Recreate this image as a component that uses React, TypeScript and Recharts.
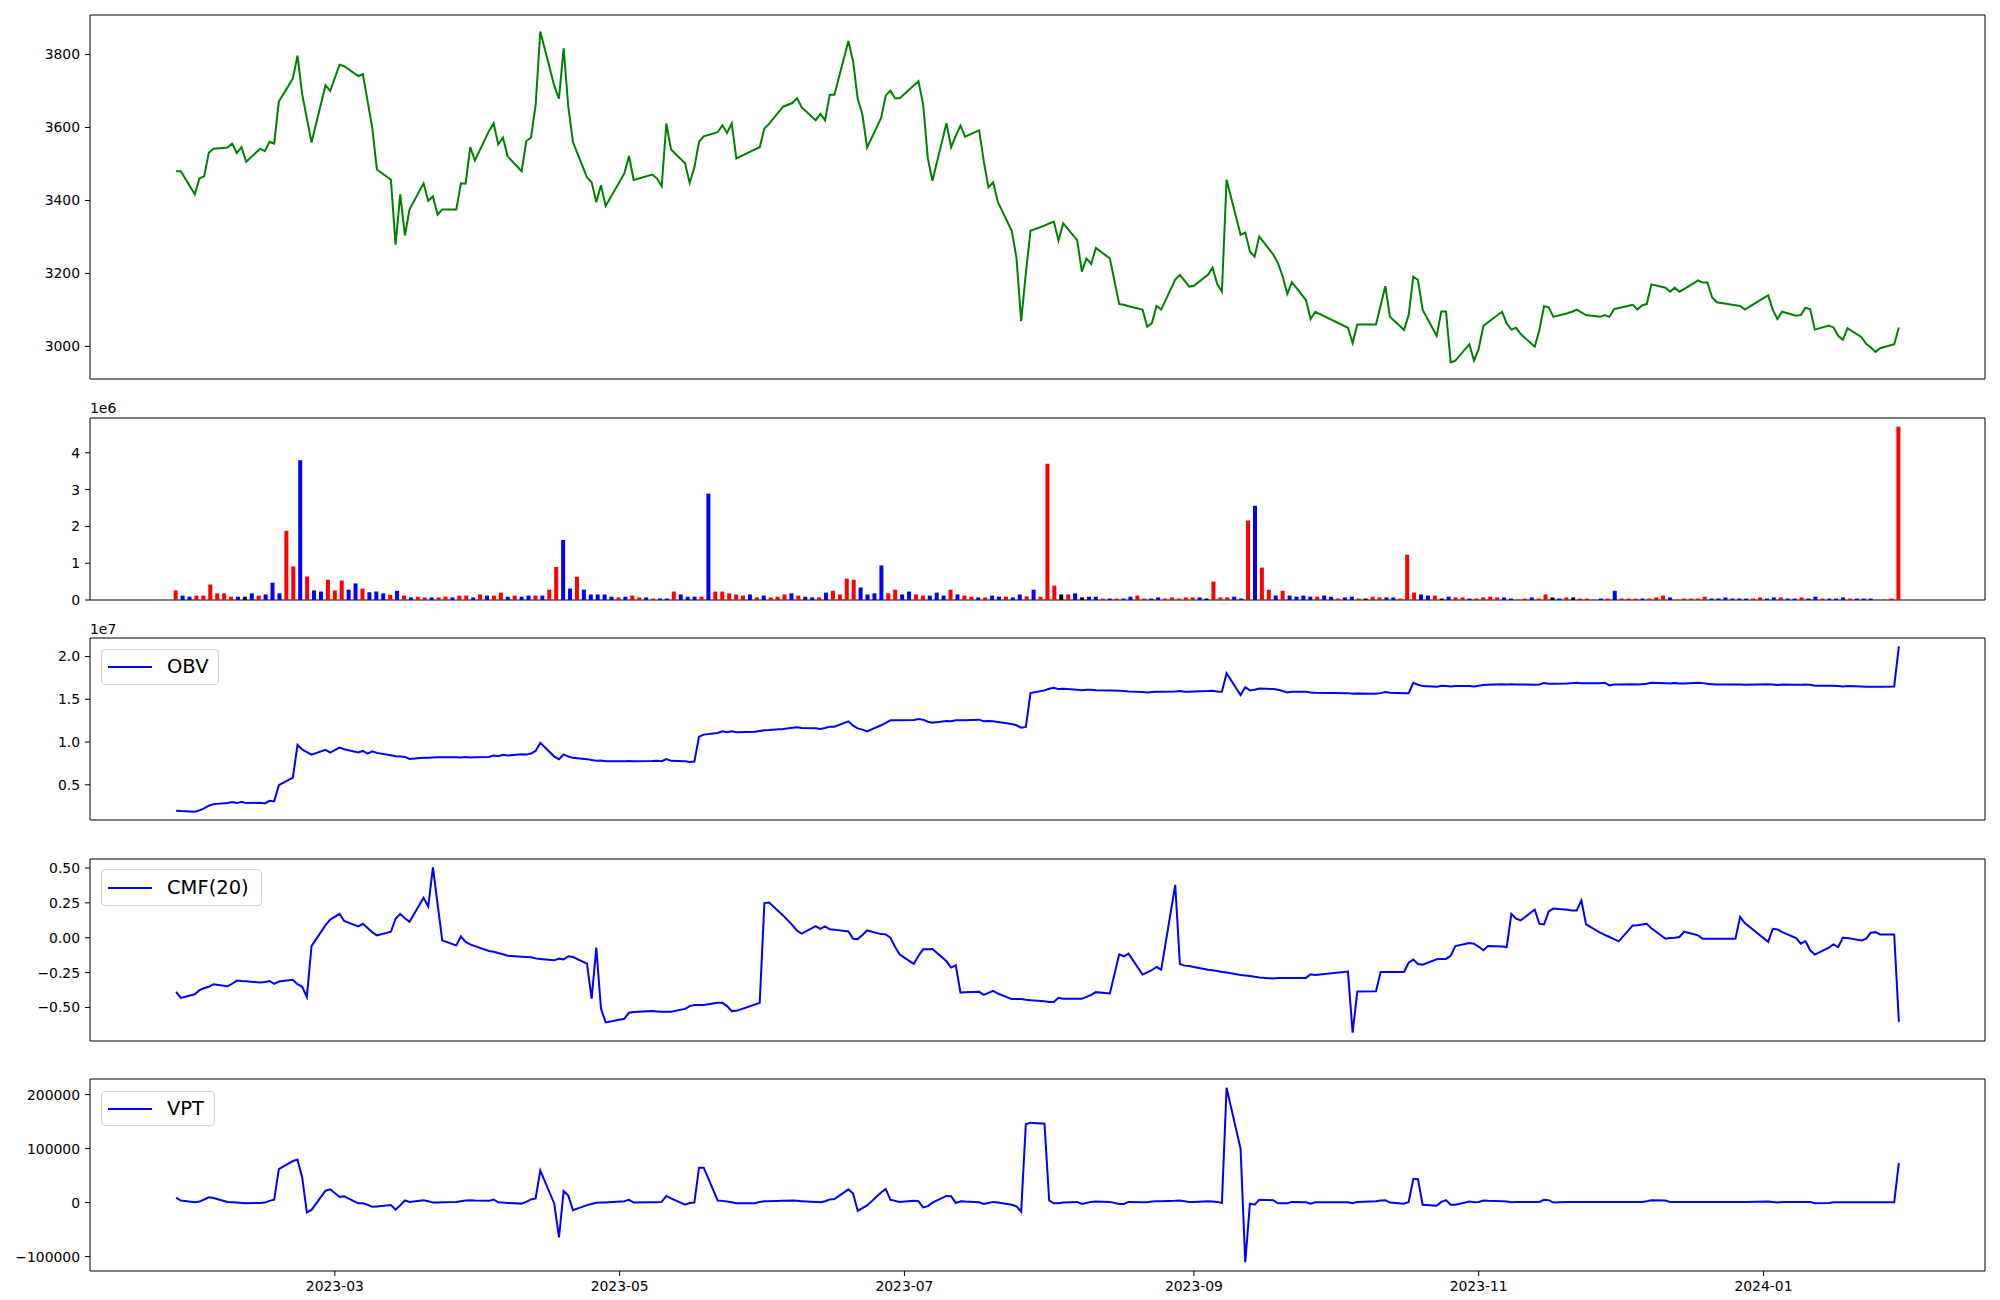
import React from 'react';
import { LineChart, Line, BarChart, Bar, Cell, XAxis, YAxis, ReferenceArea } from 'recharts';

const DAY = 86400000;
const START = Date.UTC(2023, 0, 26);
const END = Date.UTC(2024, 0, 30);

// market holidays falling on weekdays inside the range
const HOLIDAYS = [
  '2023-03-01', '2023-05-01', '2023-05-05', '2023-05-29', '2023-06-06', '2023-08-15',
  '2023-09-28', '2023-09-29', '2023-10-02', '2023-10-03', '2023-10-09', '2023-12-25',
  '2023-12-29', '2024-01-01',
];

const MONTH_LABELS = ['2023-03', '2023-05', '2023-07', '2023-09', '2023-11', '2024-01'];

// closing price, one value per trading day (rows = months)
const close = [
  3480, 3480, 3417, 3461,
  3466, 3531, 3542, 3545, 3556, 3530, 3546, 3506, 3542, 3535, 3561, 3556, 3671, 3734, 3797, 3691, 3625, 3559, 3716, 3700,
  3772, 3768, 3741, 3746, 3673, 3600, 3485, 3457, 3279, 3417, 3304, 3376, 3447, 3399, 3411, 3361, 3375, 3375, 3447, 3446, 3546, 3510,
  3590, 3611, 3554, 3572, 3521, 3480, 3563, 3572, 3661, 3863, 3714, 3679, 3817, 3657, 3560, 3463, 3450, 3395, 3442, 3385,
  3474, 3522, 3456, 3471, 3460, 3439, 3611, 3540, 3502, 3448, 3490, 3561, 3576, 3587, 3606, 3585, 3611, 3515, 3540, 3546,
  3597, 3610, 3657, 3667, 3680, 3655, 3620, 3637, 3620, 3690, 3690, 3837, 3781, 3678, 3635, 3545, 3626, 3688, 3701, 3680, 3680,
  3715, 3727, 3664, 3516, 3454, 3612, 3546, 3577, 3605, 3575, 3592, 3507, 3436, 3450, 3396, 3316, 3242, 3069, 3200, 3317, 3331,
  3337, 3342, 3290, 3337, 3291, 3205, 3241, 3226, 3270, 3241, 3116, 3114, 3110, 3101, 3054, 3064, 3111, 3101, 3183, 3196, 3180, 3164,
  3166, 3196, 3216, 3171, 3150, 3457, 3306, 3312, 3260, 3246, 3301, 3252, 3228, 3193, 3144, 3176, 3127, 3075, 3095,
  3051, 3009, 3060, 3060, 3112, 3165, 3081, 3045, 3086, 3191, 3182, 3100, 3029, 3096, 3096, 2956, 2961, 3006, 2961,
  2993, 3056, 3066, 3095, 3063, 3046, 3051, 3034, 2999, 3045, 3110, 3107, 3081, 3091, 3095, 3101, 3093, 3086, 3081, 3086, 3081, 3102,
  3105, 3114, 3101, 3113, 3116, 3170, 3161, 3150, 3161, 3150, 3157, 3181, 3175, 3175, 3134, 3121, 3113, 3111, 3101,
  3140, 3100, 3075, 3095, 3084, 3086, 3106, 3102, 3046, 3057, 3052, 3029, 3018, 3050, 3025, 3007, 2997, 2985, 2995, 3006, 3052,
];

// volume in millions (rows of ten bars)
const volume = [
  0.26, 0.12, 0.09, 0.12, 0.12, 0.42, 0.18, 0.18, 0.09, 0.09,
  0.09, 0.18, 0.12, 0.15, 0.47, 0.18, 1.88, 0.91, 3.80, 0.64,
  0.26, 0.23, 0.55, 0.26, 0.53, 0.28, 0.45, 0.31, 0.21, 0.23,
  0.18, 0.14, 0.25, 0.12, 0.07, 0.09, 0.07, 0.07, 0.07, 0.09,
  0.07, 0.12, 0.12, 0.07, 0.15, 0.12, 0.12, 0.20, 0.09, 0.12,
  0.09, 0.12, 0.12, 0.12, 0.28, 0.90, 1.63, 0.31, 0.63, 0.28,
  0.15, 0.15, 0.15, 0.09, 0.07, 0.09, 0.12, 0.07, 0.07, 0.04,
  0.04, 0.04, 0.23, 0.15, 0.09, 0.09, 0.09, 2.89, 0.23, 0.23,
  0.18, 0.15, 0.12, 0.15, 0.07, 0.12, 0.07, 0.09, 0.15, 0.18,
  0.12, 0.09, 0.07, 0.07, 0.20, 0.25, 0.15, 0.58, 0.55, 0.34,
  0.15, 0.18, 0.94, 0.18, 0.28, 0.15, 0.23, 0.15, 0.12, 0.12,
  0.20, 0.12, 0.28, 0.15, 0.12, 0.09, 0.07, 0.07, 0.12, 0.09,
  0.09, 0.07, 0.15, 0.10, 0.28, 0.09, 3.70, 0.39, 0.15, 0.15,
  0.18, 0.07, 0.09, 0.09, 0.04, 0.04, 0.04, 0.04, 0.09, 0.12,
  0.04, 0.04, 0.07, 0.04, 0.07, 0.04, 0.07, 0.07, 0.07, 0.04,
  0.50, 0.07, 0.07, 0.09, 0.04, 2.16, 2.56, 0.88, 0.28, 0.12,
  0.25, 0.12, 0.09, 0.12, 0.09, 0.09, 0.12, 0.09, 0.04, 0.07,
  0.09, 0.04, 0.04, 0.09, 0.07, 0.07, 0.07, 0.04, 1.23, 0.20,
  0.15, 0.12, 0.12, 0.04, 0.09, 0.07, 0.07, 0.04, 0.04, 0.07,
  0.09, 0.07, 0.07, 0.04, 0.01, 0.04, 0.07, 0.04, 0.15, 0.07,
  0.04, 0.07, 0.07, 0.04, 0.04, 0.01, 0.04, 0.04, 0.25, 0.04,
  0.04, 0.04, 0.04, 0.04, 0.07, 0.12, 0.07, 0.01, 0.04, 0.04,
  0.04, 0.09, 0.04, 0.04, 0.07, 0.04, 0.04, 0.04, 0.04, 0.07,
  0.04, 0.07, 0.07, 0.04, 0.04, 0.07, 0.04, 0.09, 0.04, 0.04,
  0.04, 0.07, 0.04, 0.04, 0.04, 0.04, 0.01, 0.01, 0.04, 4.71,
];

// bar colour class: 1 red, -1 blue, 0 black
const volumeTone = [
  1, -1, -1, 1, 1, 1, 1, 1, 1, -1,
  0, -1, 1, -1, -1, -1, 1, 1, -1, 1,
  -1, -1, 1, 1, 1, -1, -1, 1, -1, -1,
  -1, 1, -1, 1, -1, 1, 1, -1, 1, 1,
  -1, 1, 1, -1, 1, -1, 1, 1, -1, 1,
  -1, -1, 1, -1, 1, 1, -1, -1, 1, -1,
  -1, -1, -1, -1, 1, -1, 1, 1, -1, 1,
  -1, -1, 1, -1, -1, -1, 1, -1, 1, 1,
  1, 1, 1, -1, 1, -1, 1, 1, 1, -1,
  1, -1, -1, 1, -1, 1, 1, 1, 1, -1,
  -1, -1, -1, 1, 1, -1, -1, 1, 1, -1,
  -1, -1, 1, -1, 1, 1, -1, 1, -1, -1,
  1, -1, -1, 1, -1, 1, 1, 1, 0, 1,
  -1, 0, -1, -1, 1, -1, 1, -1, -1, 1,
  1, -1, -1, 1, 1, 1, 1, 1, -1, 0,
  1, 1, 1, -1, -1, 1, -1, 1, 1, -1,
  1, -1, -1, -1, -1, 1, -1, -1, 1, -1,
  -1, 1, 0, 1, 1, -1, -1, 1, 1, 1,
  -1, -1, 1, 0, -1, 1, 1, -1, 1, 1,
  1, 1, -1, -1, 1, 1, -1, 1, 1, 0,
  -1, 1, 0, 1, 1, 1, -1, 1, -1, 1,
  1, 1, -1, 1, 1, 1, -1, 1, 1, 1,
  1, 1, -1, -1, -1, -1, -1, -1, 1, 1,
  -1, -1, 1, -1, -1, 1, -1, -1, 1, -1,
  -1, -1, 1, -1, -1, -1, 1, 1, 1, 1,
];

// OBV in units of 1e7 (rows = months)
const obv = [
  0.197, 0.193, 0.185, 0.201,
  0.224, 0.255, 0.274, 0.286, 0.298, 0.286, 0.302, 0.286, 0.29, 0.282, 0.313, 0.306, 0.496, 0.585, 0.966, 0.912, 0.881, 0.853, 0.908, 0.877,
  0.935, 0.916, 0.877, 0.896, 0.865, 0.892, 0.873, 0.846, 0.834, 0.83, 0.826, 0.803, 0.815, 0.815, 0.818, 0.822, 0.822, 0.822, 0.818, 0.826, 0.818, 0.822,
  0.826, 0.842, 0.834, 0.85, 0.842, 0.857, 0.853, 0.865, 0.896, 0.99, 0.83, 0.80, 0.855, 0.83, 0.815, 0.80, 0.79, 0.78, 0.785, 0.775,
  0.776, 0.777, 0.776, 0.778, 0.78, 0.775, 0.80, 0.78, 0.774, 0.768, 0.771, 1.063, 1.087, 1.106, 1.125, 1.114, 1.125, 1.114, 1.12, 1.13,
  1.137, 1.14, 1.153, 1.168, 1.172, 1.164, 1.16, 1.153, 1.164, 1.18, 1.18, 1.242, 1.192, 1.16, 1.145, 1.125, 1.196, 1.223, 1.254, 1.254, 1.254,
  1.258, 1.27, 1.262, 1.238, 1.227, 1.246, 1.242, 1.254, 1.254, 1.254, 1.262, 1.242, 1.246, 1.242, 1.234, 1.211, 1.196, 1.168, 1.177, 1.572, 1.604,
  1.623, 1.635, 1.619, 1.623, 1.611, 1.607, 1.611, 1.611, 1.607, 1.604, 1.60, 1.596, 1.592, 1.584, 1.58, 1.584, 1.588, 1.588, 1.592, 1.596, 1.588, 1.588,
  1.592, 1.596, 1.60, 1.592, 1.588, 1.804, 1.549, 1.642, 1.604, 1.611, 1.627, 1.619, 1.611, 1.596, 1.58, 1.588, 1.588, 1.58, 1.576,
  1.572, 1.565, 1.569, 1.565, 1.572, 1.584, 1.576, 1.572, 1.572, 1.693, 1.67, 1.654, 1.646, 1.658, 1.654, 1.65, 1.654, 1.654, 1.65,
  1.658, 1.666, 1.67, 1.677, 1.674, 1.677, 1.674, 1.674, 1.67, 1.674, 1.689, 1.681, 1.681, 1.685, 1.689, 1.693, 1.689, 1.689, 1.689, 1.693, 1.662, 1.674,
  1.674, 1.677, 1.674, 1.677, 1.681, 1.693, 1.689, 1.685, 1.689, 1.685, 1.685, 1.693, 1.689, 1.681, 1.677, 1.674, 1.674, 1.674, 1.67,
  1.677, 1.674, 1.666, 1.674, 1.67, 1.67, 1.674, 1.67, 1.658, 1.658, 1.658, 1.654, 1.65, 1.654, 1.65, 1.646, 1.646, 1.646, 1.646, 1.65, 2.12,
];

// Chaikin money flow, 20 day
const cmf = [
  -0.388, -0.431, -0.405, -0.376,
  -0.362, -0.352, -0.333, -0.348, -0.33, -0.307, -0.31, -0.312, -0.321, -0.317, -0.31, -0.331, -0.314, -0.302, -0.333, -0.352, -0.424, -0.06, 0.09, 0.13,
  0.171, 0.12, 0.081, 0.10, 0.07, 0.04, 0.017, 0.043, 0.136, 0.171, 0.14, 0.114, 0.286, 0.224, 0.505, 0.243, -0.019, -0.055, 0.01, -0.03, -0.048, -0.06,
  -0.095, -0.10, -0.11, -0.119, -0.129, -0.136, -0.138, -0.14, -0.148, -0.152, -0.162, -0.15, -0.155, -0.133, -0.138, -0.186, -0.436, -0.071, -0.507, -0.607,
  -0.581, -0.538, -0.533, -0.526, -0.528, -0.53, -0.531, -0.531, -0.51, -0.49, -0.483, -0.483, -0.483, -0.467, -0.467, -0.49, -0.526, -0.524, -0.479, -0.467,
  0.248, 0.252, 0.16, 0.09, 0.05, 0.029, 0.083, 0.064, 0.081, 0.06, 0.058, 0.045, -0.007, -0.01, 0.02, 0.052, 0.026, 0.024, 0.0, -0.067, -0.121,
  -0.188, -0.13, -0.083, -0.082, -0.081, -0.169, -0.214, -0.198, -0.393, -0.39, -0.388, -0.41, -0.395, -0.381, -0.40, -0.44, -0.44, -0.44, -0.445, -0.448, -0.455,
  -0.46, -0.46, -0.431, -0.438, -0.438, -0.438, -0.424, -0.41, -0.39, -0.40, -0.119, -0.133, -0.114, -0.264, -0.248, -0.233, -0.21, -0.229, 0.379, -0.188, -0.2, -0.202,
  -0.21, -0.229, -0.233, -0.238, -0.245, -0.25, -0.267, -0.27, -0.274, -0.28, -0.285, -0.293, -0.288, -0.288, -0.288, -0.288, -0.288, -0.262, -0.267,
  -0.243, -0.681, -0.386, -0.383, -0.245, -0.245, -0.245, -0.245, -0.179, -0.157, -0.188, -0.193, -0.155, -0.153, -0.152, -0.129, -0.06, -0.038, -0.043,
  -0.065, -0.09, -0.06, -0.063, -0.067, 0.171, 0.136, 0.124, 0.202, 0.1, 0.095, 0.188, 0.21, 0.2, 0.195, 0.195, 0.267, 0.095, 0.036, 0.02, 0.005, -0.01,
  -0.026, 0.088, 0.09, 0.095, 0.1, 0.068, -0.007, -0.002, 0.0, 0.005, 0.043, 0.017, -0.007, -0.007, -0.007, -0.007, -0.007, 0.15, 0.105,
  -0.029, 0.064, 0.06, 0.04, -0.002, -0.043, -0.024, -0.09, -0.121, -0.071, -0.048, -0.067, 0.0, -0.002, -0.019, -0.007, 0.036, 0.04, 0.024, 0.024, -0.602,
];

// volume price trend
const vpt = [
  9050, 3900, 650, 1900,
  5800, 9700, 8400, 1300, 650, 0, -650, -1300, -650, 0, 3200, 5200, 62000, 77000, 79500, 46500, -18100, -13600, 22000, 24600,
  10300, 11600, -1300, -1300, -3900, -7800, -7100, -4500, -12900, -5200, 3900, 1300, 4500, 2600, 0, 0, 650, 1300, 2600, 3900, 4500, 3900,
  3200, 5800, 650, 0, -650, -1900, 1300, 5800, 7800, 59500, -2000, -64600, 21300, 12900, -14200, -4700, -2600, -500, 0, 300,
  2600, 5200, 0, 650, 650, 1300, 12300, 7800, -3900, -650, 0, 64600, 64600, 3900, 3200, 1900, 650, -1300, -1300, 1300,
  2600, 2600, 3200, 3900, 3200, 2600, 1300, 650, 2600, 5800, 6500, 24600, 16800, -15500, -10300, -5200, 18700, 25200, 5200, 3200, 1300,
  3200, 2600, -9000, -6500, 0, 12300, 11600, -650, 2600, 1900, 650, -2600, -650, 1300, 0, -3900, -7100, -16800, 145000, 148000, 146000,
  3900, -1300, -1300, 0, 1300, -2600, -650, 1300, 1900, 1300, -2600, -2600, 1300, 650, 650, 1900, 2600, 2600, 3200, 3900, 2600, 1300,
  1300, 2600, 1900, 1300, -650, 212700, 99500, -110500, -1900, -3900, 5200, 4500, -1300, -1300, -1300, 1300, 650, -1900, 650,
  650, -1300, 1300, 2600, 3900, 4500, 0, -1900, 1300, 44000, 43300, -3900, -5800, 1300, 4500, -3900, -3900, 1900, 650,
  1300, 3900, 3200, 2600, 1900, 650, 1300, 1300, 1300, 1300, 5200, 4500, 0, 1300, 1300, 1300, 1300, 1300, 1300, 1300, 1300, 1300,
  1300, 1300, 1300, 1300, 2600, 4500, 3900, 1300, 1300, 1300, 1300, 1300, 1300, 1300, 1300, 1300, 1300, 1300, 1300,
  1900, 1300, 0, 1300, 1300, 1300, 1300, 1300, -1300, -650, 650, 650, 650, 650, 650, 650, 650, 650, 650, 650, 73700,
];

// trading days as day offsets from START
const days: number[] = [];
for (let t = START; t <= END; t += DAY) {
  const dt = new Date(t);
  const wd = dt.getUTCDay();
  if (wd === 0 || wd === 6 || HOLIDAYS.includes(dt.toISOString().slice(0, 10))) continue;
  days.push(Math.round((t - START) / DAY));
}

const rows = days.map((d, i) => ({ d, close: close[i], obv: obv[i], cmf: cmf[i], vpt: vpt[i] }));
const barRows = volume.map((v, i) => ({ i, v, tone: volumeTone[i] }));

const monthTicks = MONTH_LABELS.map((m) => {
  const [y, mo] = m.split('-').map(Number);
  return Math.round((Date.UTC(y, mo - 1, 1) - START) / DAY);
});

// matplotlib style 5% margins
const pad = (lo: number, hi: number): [number, number] => [lo - (hi - lo) * 0.05, hi + (hi - lo) * 0.05];
const X_DOMAIN = pad(days[0], days[days.length - 1]);
const BAR_DOMAIN = pad(0, volume.length - 1);
const range = (arr: number[]) => pad(Math.min(...arr), Math.max(...arr));

const W = 2000;
const PLOT_LEFT = 90;
const PLOT_RIGHT = 1985;
const FONT = 'DejaVu Sans, Verdana, sans-serif';
const tickStyle = { fill: '#000', fontSize: 13.9, fontFamily: FONT };
const TONE_COLORS: Record<string, string> = { '1': '#ff0000', '-1': '#0000ff', '0': '#000000' };

const minus = (s: string) => s.replace('-', '\u2212');

function yAxis(domain: [number, number], ticks: number[], fmt: (v: number) => string) {
  return (
    <YAxis
      type="number"
      domain={domain}
      ticks={ticks}
      allowDataOverflow
      width={PLOT_LEFT}
      axisLine={false}
      tickLine={{ stroke: '#000', strokeWidth: 1 }}
      tickSize={5}
      tickMargin={5}
      tick={tickStyle}
      tickFormatter={fmt}
      interval={0}
    />
  );
}

function LinePanel(props: {
  top: number; height: number; dataKey: string; color: string;
  domain: [number, number]; ticks: number[]; fmt: (v: number) => string; showDates?: boolean;
}) {
  const { top, height, dataKey, color, domain, ticks, fmt, showDates } = props;
  const axisH = showDates ? 34 : 0;
  return (
    <div style={{ position: 'absolute', left: 0, top: top - 10 }}>
      <LineChart
        width={W}
        height={height + 20 + axisH}
        data={rows}
        margin={{ top: 10, right: W - PLOT_RIGHT, bottom: showDates ? 0 : 10, left: 0 }}
      >
        {showDates ? (
          <XAxis
            type="number"
            dataKey="d"
            domain={X_DOMAIN}
            allowDataOverflow
            ticks={monthTicks}
            interval={0}
            height={axisH}
            axisLine={false}
            tickLine={{ stroke: '#000', strokeWidth: 1 }}
            tickSize={5}
            tickMargin={5}
            tick={tickStyle}
            tickFormatter={(v: number) => MONTH_LABELS[monthTicks.indexOf(v)] ?? ''}
          />
        ) : (
          <XAxis type="number" dataKey="d" domain={X_DOMAIN} allowDataOverflow hide />
        )}
        {yAxis(domain, ticks, fmt)}
        <ReferenceArea
          x1={X_DOMAIN[0]} x2={X_DOMAIN[1]} y1={domain[0]} y2={domain[1]}
          fill="none" fillOpacity={0} stroke="#000" strokeWidth={1} ifOverflow="visible"
        />
        <Line
          type="linear"
          dataKey={dataKey}
          stroke={color}
          strokeWidth={2}
          dot={false}
          activeDot={false}
          isAnimationActive={false}
        />
      </LineChart>
    </div>
  );
}

function VolumePanel({ top, height }: { top: number; height: number }) {
  const domain: [number, number] = [0, Math.max(...volume) * 1.05];
  return (
    <div style={{ position: 'absolute', left: 0, top: top - 10 }}>
      <BarChart
        width={W}
        height={height + 20}
        data={barRows}
        margin={{ top: 10, right: W - PLOT_RIGHT, bottom: 10, left: 0 }}
      >
        <XAxis type="number" dataKey="i" domain={BAR_DOMAIN} allowDataOverflow hide />
        {yAxis(domain, [0, 1, 2, 3, 4], (v) => String(v))}
        <ReferenceArea
          x1={BAR_DOMAIN[0]} x2={BAR_DOMAIN[1]} y1={domain[0]} y2={domain[1]}
          fill="none" fillOpacity={0} stroke="#000" strokeWidth={1} ifOverflow="visible"
        />
        <Bar dataKey="v" barSize={4} isAnimationActive={false}>
          {barRows.map((r) => (
            <Cell key={r.i} fill={TONE_COLORS[String(r.tone)]} />
          ))}
        </Bar>
      </BarChart>
    </div>
  );
}

function LegendBox({ left, top, width, height, label }: {
  left: number; top: number; width: number; height: number; label: string;
}) {
  return (
    <div
      style={{
        position: 'absolute', left, top, width, height, boxSizing: 'border-box',
        border: '1px solid #d4d4d4', borderRadius: 4, background: 'rgba(255,255,255,0.8)',
      }}
    >
      <div style={{ position: 'absolute', left: 6, top: height / 2 - 2, width: 44, height: 2, background: '#0000ff' }} />
      <div
        style={{
          position: 'absolute', left: 65, top: 0, height: height - 2, lineHeight: `${height - 2}px`,
          fontSize: 19.5, fontFamily: FONT, color: '#000', whiteSpace: 'nowrap',
        }}
      >
        {label}
      </div>
    </div>
  );
}

function OffsetText({ top, text }: { top: number; text: string }) {
  return (
    <div style={{ position: 'absolute', left: PLOT_LEFT, top, fontSize: 13.9, lineHeight: '16px', fontFamily: FONT, color: '#000' }}>
      {text}
    </div>
  );
}

export default function App() {
  return (
    <div style={{ position: 'absolute', left: 0, top: 0, width: W, height: 1300, background: '#fff', overflow: 'hidden' }}>
      <LinePanel
        top={15} height={364} dataKey="close" color="#008000"
        domain={range(close)} ticks={[3000, 3200, 3400, 3600, 3800]} fmt={(v) => String(v)}
      />
      <VolumePanel top={418} height={182} />
      <OffsetText top={400} text="1e6" />
      <LinePanel
        top={638} height={182} dataKey="obv" color="#0000ff"
        domain={range(obv)} ticks={[0.5, 1.0, 1.5, 2.0]} fmt={(v) => v.toFixed(1)}
      />
      <OffsetText top={621} text="1e7" />
      <LegendBox left={101} top={649} width={118} height={36} label="OBV" />
      <LinePanel
        top={859} height={182} dataKey="cmf" color="#0000ff"
        domain={range(cmf)} ticks={[-0.5, -0.25, 0, 0.25, 0.5]} fmt={(v) => minus(v.toFixed(2))}
      />
      <LegendBox left={101} top={869} width={161} height={37} label="CMF(20)" />
      <LinePanel
        top={1079} height={182} dataKey="vpt" color="#0000ff" showDates
        domain={range(vpt)} ticks={[-100000, 0, 100000, 200000]} fmt={(v) => minus(String(v))}
      />
      <LegendBox left={101} top={1091} width={114} height={35} label="VPT" />
    </div>
  );
}
